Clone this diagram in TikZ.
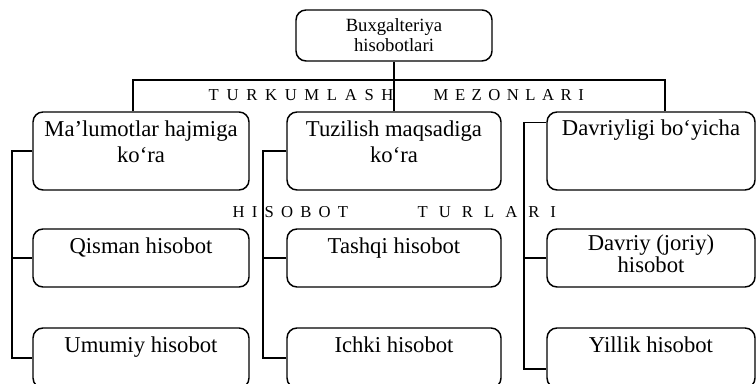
\documentclass[tikz,border=0pt]{standalone}
\usepackage{fontspec}
\setmainfont{Liberation Serif}
\usepackage{tikz}
\usetikzlibrary{positioning, calc}
\newcommand{\spacedword}[2]{{\addfontfeature{LetterSpace=#1}#2}}

\begin{document}
\begin{tikzpicture}[x=0.75pt, y=-0.75pt, line width=1.1pt,
    box/.style={draw, rounded corners=7.5pt, inner sep=0pt, minimum height=58.5pt},
    rowbox/.style={box, minimum height=43.5pt},
    lastbox/.style={box, minimum height=45pt},
    boxtext/.style={inner sep=0pt, align=center, font=\fontsize{17}{19.5}\selectfont},
    spaced/.style={inner sep=0pt, anchor=west, font=\fontsize{12.5}{14}\selectfont}]

  \useasboundingbox (0,0) rectangle (756,384);
  \clip (0,0) rectangle (756,384);

  % --- Caixa superior ---
  \node[box, minimum width=147pt, minimum height=38.25pt, align=center,
        font=\fontsize{14}{15}\selectfont] (hisob) at (394,35.5) {Buxgalteriya\\hisobotlari};

  % --- Mezonlar (1-qator) ---
  \node[box, minimum width=162pt]   (hajm)  at (141,151) {};
  \node[box, minimum width=160.5pt] (tuzil) at (394,151) {};
  \node[box, minimum width=156pt]   (davr)  at (651,151) {};
  \node[boxtext, below=6.5pt of hajm.north]  (hajm-t)  {Ma’lumotlar hajmiga\\ko‘ra};
  \node[boxtext, below=6.5pt of tuzil.north] (tuzil-t) {Tuzilish maqsadiga\\ko‘ra};
  \node[boxtext, below=6pt of davr.north]    (davr-t)  {Davriyligi bo‘yicha};

  % --- Hisobot turlari (2-qator) ---
  \node[rowbox, minimum width=162pt]   (qism)  at (141,258) {};
  \node[rowbox, minimum width=160.5pt] (tash)  at (394,258) {};
  \node[rowbox, minimum width=156pt]   (joriy) at (651,258) {};
  \node[boxtext, below=6.5pt of qism.north]  (qism-t)  {Qisman hisobot};
  \node[boxtext, below=6.5pt of tash.north]  (tash-t)  {Tashqi hisobot};
  \node[boxtext, below=4.5pt of joriy.north] (joriy-t) {Davriy (joriy)\\[-3pt]hisobot};

  % --- Hisobot turlari (3-qator, pastki chetda kesilgan) ---
  \node[lastbox, minimum width=162pt]   (umum) at (141,358) {};
  \node[lastbox, minimum width=160.5pt] (ichk) at (394,358) {};
  \node[lastbox, minimum width=156pt]   (yill) at (651,358) {};
  \node[boxtext, below=6.5pt of umum.north] (umum-t) {Umumiy hisobot};
  \node[boxtext, below=6.5pt of ichk.north] (ichk-t) {Ichki hisobot};
  \node[boxtext, below=6.5pt of yill.north] (yill-t) {Yillik hisobot};

  % --- Sarlavha yozuvlari ---
  \node[spaced] (turk)   at (208,95.5) {\spacedword{46}{TURKUMLASH}};
  \node[spaced] (mezon)  at (433,95.5) {\spacedword{39}{MEZONLARI}};
  \node[spaced] (hsbt)   at (232,212)  {\spacedword{43}{HISOBOT}};
  \node[spaced] (turlar) at (417,212)  {\spacedword{66}{TURLARI}};

  % --- Ulanishlar ---
  \coordinate (barL) at (133,80);
  \coordinate (barR) at (665,80);
  \draw (hisob) -- (tuzil);
  \draw (barL |- hajm.north) -- (barL) -- (barR) -- (barR |- davr.north);

  % Chap tomondagi shoxlar
  \coordinate (railA) at (12,0);
  \coordinate (railB) at (263,0);
  \coordinate (railC) at (524,0);
  \coordinate (davr-in) at ($(davr.north west)+(0,11)$);
  \coordinate (yill-in) at ($(yill.west)+(0,11)$);

  \draw (hajm.west) -- (railA |- hajm.west) -- (railA |- umum.west) -- (umum.west);
  \draw (railA |- qism.west) -- (qism.west);

  \draw (tuzil.west) -- (railB |- tuzil.west) -- (railB |- ichk.west) -- (ichk.west);
  \draw (railB |- tash.west) -- (tash.west);

  \draw (davr-in) -- (railC |- davr-in) -- (railC |- yill-in) -- (yill-in);
  \draw (railC |- joriy.west) -- (joriy.west);

\end{tikzpicture}
\end{document}
